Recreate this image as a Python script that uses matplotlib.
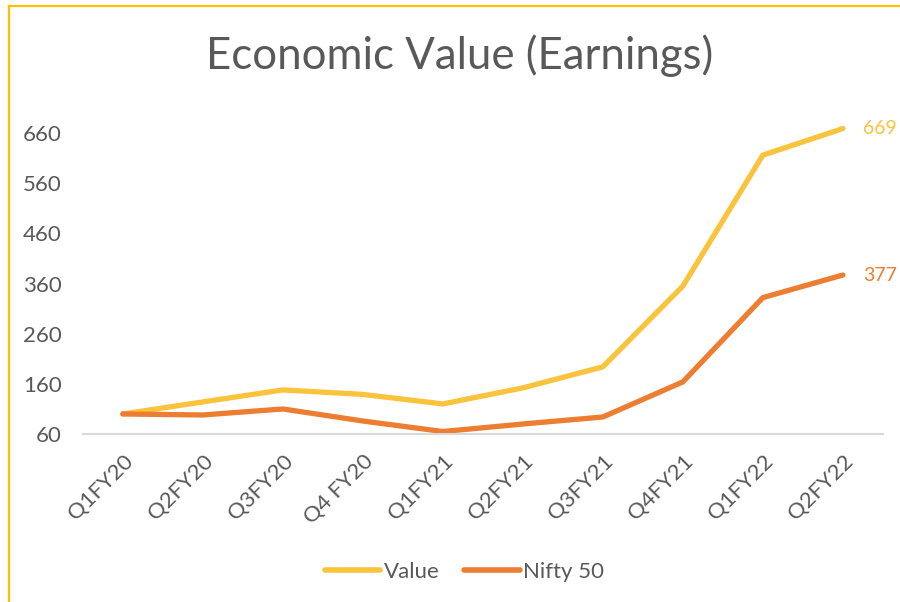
import matplotlib
matplotlib.use("Agg")
from matplotlib import pyplot
from matplotlib.lines import Line2D

quarters = ["Q1FY20", "Q2FY20", "Q3FY20", "Q4 FY20", "Q1FY21",
            "Q2FY21", "Q3FY21", "Q4FY21", "Q1FY22", "Q2FY22"]
value = [100, 124, 148, 139, 120, 152, 194, 355, 616, 669]
nifty = [100, 98, 110, 86, 65, 80, 94, 164, 332, 377]
yticks = [60, 160, 260, 360, 460, 560, 660]

gold = "#F9C33B"
orange = "#ED7D31"
grey = "#595959"
font = ["Lato", "DejaVu Sans"]

pyplot.rcParams["font.family"] = font

fig = pyplot.figure(figsize=(9, 6.02), dpi=100)
ax = fig.add_axes([0.092, 0.279, 0.889, 0.55])

x = list(range(len(quarters)))
ax.plot(x, value, color=gold, lw=3.8, solid_joinstyle="round",
        solid_capstyle="round", label="Value")
ax.plot(x, nifty, color=orange, lw=3.8, solid_joinstyle="round",
        solid_capstyle="round", label="Nifty 50")

# end labels
ax.annotate(str(value[-1]), (x[-1], value[-1]), xytext=(14.5, 0),
            textcoords="offset points", color=gold, fontsize=14,
            va="center", ha="left", annotation_clip=False)
ax.annotate(str(nifty[-1]), (x[-1], nifty[-1]), xytext=(14.5, 0),
            textcoords="offset points", color=orange, fontsize=14,
            va="center", ha="left", annotation_clip=False)

ax.set_xlim(-0.5, len(quarters) - 0.5)
ax.set_ylim(60, 720)
ax.set_yticks(yticks)
ax.set_yticklabels([str(t) for t in yticks], color=grey, fontsize=16)
ax.set_xticks(x)
ax.set_xticklabels(quarters, rotation=45, ha="right", va="top",
                   rotation_mode="anchor", color=grey, fontsize=16)
ax.tick_params(length=0)
ax.tick_params(axis="x", pad=12)
ax.tick_params(axis="y", pad=15)
for side in ["top", "right", "left"]:
    ax.spines[side].set_visible(False)
ax.spines["bottom"].set_color("#D9D9D9")
ax.spines["bottom"].set_linewidth(1.5)

fig.text(0.511, 0.908, "Economic Value (Earnings)", ha="center",
         va="center", fontsize=31.5, color=grey)

handles = [Line2D([], [], color=gold, lw=4, solid_capstyle="round"),
           Line2D([], [], color=orange, lw=4, solid_capstyle="round")]
leg = fig.legend(handles, ["Value", "Nifty 50"], loc="center",
                 bbox_to_anchor=(0.516, 0.05), ncol=2, frameon=False,
                 fontsize=16, handlelength=2.5, handletextpad=0.15,
                 columnspacing=1.1)
for t in leg.get_texts():
    t.set_color(grey)

# yellow frame along the left and top edges
fig.add_artist(Line2D([0.0098, 0.0098], [0, 0.99], color="#FFC000",
                      lw=1.6, transform=fig.transFigure))
fig.add_artist(Line2D([0.0098, 1.0], [0.99, 0.99], color="#FFC000",
                      lw=1.6, transform=fig.transFigure))

fig.savefig("out.png", dpi=100)
